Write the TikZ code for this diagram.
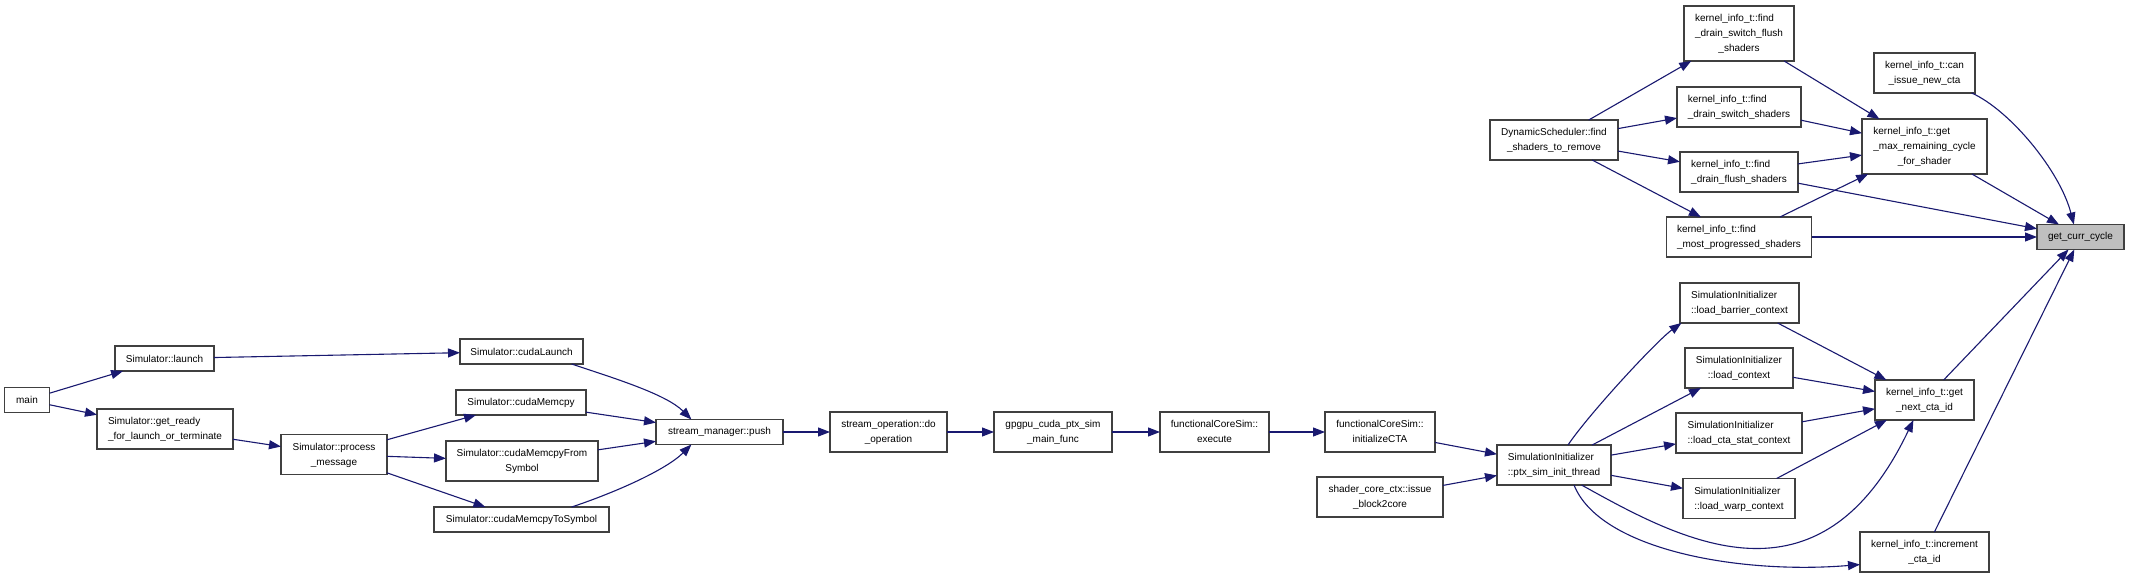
\documentclass[tikz,border=0pt]{standalone}
\usepackage{fontspec}
\setmainfont{Liberation Sans}
\usetikzlibrary{arrows.meta}
\definecolor{edgec}{HTML}{191970}
\definecolor{boxc}{HTML}{404040}
\newcommand\twol[2]{\begin{tabular}{@{}l@{}}#1\\\multicolumn{1}{@{}c@{}}{#2}\end{tabular}}
\newcommand\threel[3]{\begin{tabular}{@{}l@{}}#1\\#2\\\multicolumn{1}{@{}c@{}}{#3}\end{tabular}}
\tikzset{
  box/.style={draw=boxc, line width=1.2pt, fill=white, inner sep=0pt, outer sep=0pt,
    font=\fontsize{10}{15}\selectfont, minimum height=25, align=center},
  hl/.style={fill=black!25},
  edge/.style={draw=edgec, line width=1.1pt, -{Triangle[length=12pt,width=9pt]}}
}
\begin{document}
\begin{tikzpicture}[x=1pt,y=-1pt]
\fill[white] (0,0) rectangle (2129,578);
\path[use as bounding box] (0,0) rectangle (2129,578);

% left part
\node[box, minimum width=45] (main) at (27,400) {main};
\node[box, minimum width=99] (launch) at (164.5,358.5) {Simulator::launch};
\node[box, minimum width=136, minimum height=40] (getready) at (165,429) {\twol{Simulator::get\_ready}{\_for\_launch\_or\_terminate}};
\node[box, minimum width=106, minimum height=40] (procmsg) at (334,454.5) {\twol{Simulator::process}{\_message}};
\node[box, minimum width=123] (cudalaunch) at (521.5,351.5) {Simulator::cudaLaunch};
\node[box, minimum width=130] (memcpy) at (521,402.5) {Simulator::cudaMemcpy};
\node[box, minimum width=152, minimum height=40] (fromsym) at (522,461) {\twol{Simulator::cudaMemcpyFrom}{Symbol}};
\node[box, minimum width=175] (tosym) at (521.5,519.5) {Simulator::cudaMemcpyToSymbol};
\node[box, minimum width=127] (push) at (719.5,432) {stream\_manager::push};
\node[box, minimum width=117, minimum height=40] (doop) at (888.5,432) {\twol{stream\_operation::do}{\_operation}};
\node[box, minimum width=118, minimum height=40] (mainfunc) at (1053,432) {\twol{gpgpu\_cuda\_ptx\_sim}{\_main\_func}};
\node[box, minimum width=109, minimum height=40] (execute) at (1214.5,432) {\twol{functionalCoreSim::}{execute}};
\node[box, minimum width=110, minimum height=40] (initcta) at (1380,432) {\twol{functionalCoreSim::}{initializeCTA}};
\node[box, minimum width=126, minimum height=40] (block2core) at (1380,497) {\twol{shader\_core\_ctx::issue}{\_block2core}};
\node[box, minimum width=114, minimum height=40] (ptxinit) at (1554,465) {\twol{SimulationInitializer}{::ptx\_sim\_init\_thread}};
\node[box, minimum width=119, minimum height=40] (barrier) at (1739.5,303) {\twol{SimulationInitializer}{::load\_barrier\_context}};
\node[box, minimum width=108, minimum height=40] (loadctx) at (1739,368) {\twol{SimulationInitializer}{::load\_context}};
\node[box, minimum width=126, minimum height=40] (ctastat) at (1739,433) {\twol{SimulationInitializer}{::load\_cta\_stat\_context}};
\node[box, minimum width=112, minimum height=40] (warp) at (1739,498.5) {\twol{SimulationInitializer}{::load\_warp\_context}};
\node[box, minimum width=99, minimum height=40] (getnext) at (1924.5,400) {\twol{kernel\_info\_t::get}{\_next\_cta\_id}};
\node[box, minimum width=129, minimum height=40] (increment) at (1924.5,552) {\twol{kernel\_info\_t::increment}{\_cta\_id}};
\node[box, hl, minimum width=87] (gcc) at (2080.5,237) {get\_curr\_cycle};
\node[box, minimum width=101, minimum height=40] (canissue) at (1924.5,73) {\twol{kernel\_info\_t::can}{\_issue\_new\_cta}};
\node[box, minimum width=125, minimum height=55] (getmax) at (1924.5,146.5) {\threel{kernel\_info\_t::get}{\_max\_remaining\_cycle}{\_for\_shader}};
\node[box, minimum width=110, minimum height=55] (dsf) at (1739,33.5) {\threel{kernel\_info\_t::find}{\_drain\_switch\_flush}{\_shaders}};
\node[box, minimum width=124, minimum height=40] (ds) at (1739,107) {\twol{kernel\_info\_t::find}{\_drain\_switch\_shaders}};
\node[box, minimum width=118, minimum height=40] (df) at (1739,172) {\twol{kernel\_info\_t::find}{\_drain\_flush\_shaders}};
\node[box, minimum width=145, minimum height=40] (mp) at (1739,237) {\twol{kernel\_info\_t::find}{\_most\_progressed\_shaders}};
\node[box, minimum width=128, minimum height=40] (dyn) at (1554,140) {\twol{DynamicScheduler::find}{\_shaders\_to\_remove}};

% edges
\draw[edge] (main) -- (launch);
\draw[edge] (main) -- (getready);
\draw[edge] (launch) -- (cudalaunch);
\draw[edge] (getready) -- (procmsg);
\draw[edge] (procmsg) -- (memcpy);
\draw[edge] (procmsg) -- (fromsym);
\draw[edge] (procmsg) -- (tosym);
\draw[edge] (cudalaunch.-14) .. controls +(45,15) and +(-25,-25) .. (push.156);
\draw[edge] (memcpy) -- (push);
\draw[edge] (fromsym) -- (push);
\draw[edge] (tosym.14) .. controls +(45,-15) and +(-25,25) .. (push.-156);
\draw[edge] (push) -- (doop);
\draw[edge] (doop) -- (mainfunc);
\draw[edge] (mainfunc) -- (execute);
\draw[edge] (execute) -- (initcta);
\draw[edge] (initcta) -- (ptxinit);
\draw[edge] (block2core) -- (ptxinit);
\draw[edge] (ptxinit.55) .. controls +(20,-30) and +(-25,18) .. (barrier.-161);
\draw[edge] (ptxinit) -- (loadctx);
\draw[edge] (ptxinit) -- (ctastat);
\draw[edge] (ptxinit) -- (warp);
\draw[edge] (ptxinit.-36) .. controls +(99,55) and +(-94,197) .. (getnext.-119);
\draw[edge] (ptxinit.-45) .. controls +(26,65) and +(-120,10) .. (increment.191);
\draw[edge] (barrier) -- (getnext);
\draw[edge] (loadctx) -- (getnext);
\draw[edge] (ctastat) -- (getnext);
\draw[edge] (warp) -- (getnext);
\draw[edge] (getnext) -- (gcc);
\draw[edge] (increment) -- (gcc);
\draw[edge] (canissue.-23) .. controls +(38,17) and +(-14,-54) .. (gcc.118);
\draw[edge] (getmax) -- (gcc);
\draw[edge] (df) -- (gcc);
\draw[edge] (mp) -- (gcc);
\draw[edge] (dsf) -- (getmax);
\draw[edge] (ds) -- (getmax);
\draw[edge] (df) -- (getmax);
\draw[edge] (mp) -- (getmax);
\draw[edge] (dyn) -- (dsf);
\draw[edge] (dyn) -- (ds);
\draw[edge] (dyn) -- (df);
\draw[edge] (dyn) -- (mp);
\end{tikzpicture}
\end{document}
